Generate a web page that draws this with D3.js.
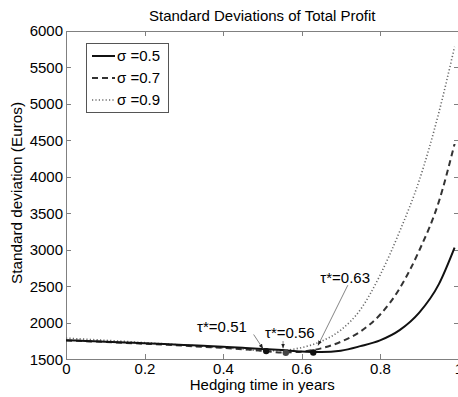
<!DOCTYPE html>
<html>
<head>
<meta charset="utf-8">
<script src="https://cdn.jsdelivr.net/npm/d3@7"></script>
<style>
  body { margin: 0; background: #fff; }
  svg { display: block; font-family: "Liberation Sans", Arial, sans-serif; }
  .axis path, .axis line { stroke: #808080; stroke-width: 1; shape-rendering: crispEdges; }
  .axis text { fill: #000; font-size: 15px; font-family: "Liberation Sans", Arial, sans-serif; }
</style>
</head>
<body>
<svg width="458" height="397"></svg>
<script>
'use strict';

// hedging time (years)
const hedgeTime = [0, 0.05, 0.1, 0.15, 0.2, 0.25, 0.3, 0.35, 0.4, 0.45, 0.5,
                   0.55, 0.6, 0.65, 0.7, 0.75, 0.8, 0.85, 0.9, 0.95, 0.99];
// std deviation of total profit (Euros)
const sigma05 = [1762, 1752, 1742, 1731, 1720, 1708, 1696, 1684, 1671, 1657, 1642,
                 1626, 1606, 1599, 1618, 1680, 1760, 1900, 2140, 2530, 3030];
const sigma07 = [1758, 1748, 1737, 1725, 1713, 1700, 1686, 1671, 1656, 1638, 1618,
                 1593, 1605, 1650, 1740, 1880, 2110, 2470, 2990, 3660, 4450];
const sigma09 = [1790, 1775, 1760, 1745, 1728, 1712, 1695, 1678, 1660, 1640, 1618,
                 1622, 1660, 1745, 1900, 2180, 2650, 3250, 3950, 4880, 5780];
const seriesLabels = ["\u03c3 =0.5", "\u03c3 =0.7", "\u03c3 =0.9"];

// optimal hedging times
const tauStar = [0.51, 0.56, 0.63];
const tauStd = [1612, 1588, 1594];
const tauLabels = ["\u03c4*=0.51", "\u03c4*=0.56", "\u03c4*=0.63"];

const xTicks = [0, 0.2, 0.4, 0.6, 0.8, 1];
const yTicks = [1500, 2000, 2500, 3000, 3500, 4000, 4500, 5000, 5500, 6000];

const svg = d3.select("svg");
const margin = {top: 30.7, left: 66};
const width = 392.5;
const height = 328.6;

const x = d3.scaleLinear().domain([0, 1]).range([0, width]);
const y = d3.scaleLinear().domain([1500, 6000]).range([height, 0]);

const g = svg.append("g")
    .attr("transform", "translate(" + margin.left + "," + margin.top + ")");

// arrow head
svg.append("defs").append("marker")
    .attr("id", "arr")
    .attr("viewBox", "0 0 10 10")
    .attr("refX", 10).attr("refY", 5)
    .attr("markerWidth", 6).attr("markerHeight", 6)
    .attr("orient", "auto")
  .append("path")
    .attr("d", "M0,1L10,5L0,9Z")
    .attr("fill", "#222");

// axes (box with inward ticks)
g.append("g").attr("class", "axis")
    .attr("transform", "translate(0," + height + ")")
    .call(d3.axisBottom(x).tickValues(xTicks).tickFormat(d3.format("~g"))
      .tickSizeInner(-5).tickSizeOuter(0).tickPadding(4));
g.append("g").attr("class", "axis")
    .call(d3.axisTop(x).tickValues(xTicks).tickFormat("")
      .tickSizeInner(-5).tickSizeOuter(0));
g.append("g").attr("class", "axis")
    .call(d3.axisLeft(y).tickValues(yTicks).tickFormat(d3.format("d"))
      .tickSizeInner(-5).tickSizeOuter(0).tickPadding(3));
g.append("g").attr("class", "axis")
    .attr("transform", "translate(" + width + ",0)")
    .call(d3.axisRight(y).tickValues(yTicks).tickFormat("")
      .tickSizeInner(-5).tickSizeOuter(0));

// curves
const line = d3.line()
    .x(function(d, i) { return x(hedgeTime[i]); })
    .y(function(d) { return y(d); })
    .curve(d3.curveMonotoneX);

const styles = [
  {data: sigma05, stroke: "#111", width: 2, dash: null},
  {data: sigma07, stroke: "#333", width: 2, dash: "6,4"},
  {data: sigma09, stroke: "#6a6a6a", width: 1.6, dash: "1.2,2.2"}
];

styles.slice().reverse().forEach(function(s) {
  g.append("path")
      .datum(s.data)
      .attr("fill", "none")
      .attr("stroke", s.stroke)
      .attr("stroke-width", s.width)
      .attr("stroke-dasharray", s.dash)
      .attr("d", line);
});

// minimum markers
g.selectAll(".tau")
    .data(tauStar)
  .enter().append("circle")
    .attr("class", "tau")
    .attr("cx", function(d) { return x(d); })
    .attr("cy", function(d, i) { return y(tauStd[i]); })
    .attr("r", 3.2)
    .attr("fill", function(d, i) { return i === 1 ? "#444" : "#111"; });

// annotations: label anchor and arrow (tail -> head) in data units
const notes = [
  {tx: 0.334, ty: 1873, x1: 0.478, y1: 1840, x2: 0.502, y2: 1645},
  {tx: 0.507, ty: 1790, x1: 0.553, y1: 1750, x2: 0.553, y2: 1650},
  {tx: 0.648, ty: 2545, x1: 0.718, y1: 2515, x2: 0.642, y2: 1690}
];

notes.forEach(function(n, i) {
  g.append("text")
      .attr("x", x(n.tx))
      .attr("y", y(n.ty))
      .attr("font-size", 15)
      .attr("fill", "#000")
      .text(tauLabels[i]);
  g.append("line")
      .attr("x1", x(n.x1)).attr("y1", y(n.y1))
      .attr("x2", x(n.x2)).attr("y2", y(n.y2))
      .attr("stroke", "#666")
      .attr("stroke-width", 0.8)
      .attr("marker-end", "url(#arr)");
});

// legend
const legend = svg.append("g").attr("transform", "translate(86,43)");
legend.append("rect")
    .attr("width", 82).attr("height", 69)
    .attr("fill", "#fff")
    .attr("stroke", "#555")
    .attr("stroke-width", 1)
    .attr("shape-rendering", "crispEdges");
styles.forEach(function(s, i) {
  const ly = 13 + i * 22;
  legend.append("line")
      .attr("x1", 6).attr("x2", 29)
      .attr("y1", ly).attr("y2", ly)
      .attr("stroke", s.stroke)
      .attr("stroke-width", s.width)
      .attr("stroke-dasharray", s.dash);
  legend.append("text")
      .attr("x", 31).attr("y", ly + 5)
      .attr("font-size", 15)
      .text(seriesLabels[i]);
});

// titles
svg.append("text")
    .attr("x", margin.left + width / 2).attr("y", 21)
    .attr("text-anchor", "middle")
    .attr("font-size", 15)
    .text("Standard Deviations of Total Profit");

svg.append("text")
    .attr("x", margin.left + width / 2).attr("y", 390)
    .attr("text-anchor", "middle")
    .attr("font-size", 15)
    .text("Hedging time in years");

svg.append("text")
    .attr("transform", "translate(22," + (margin.top + height / 2 - 2) + ") rotate(-90)")
    .attr("text-anchor", "middle")
    .attr("font-size", 15.3)
    .text("Standard deviation (Euros)");
</script>
</body>
</html>
